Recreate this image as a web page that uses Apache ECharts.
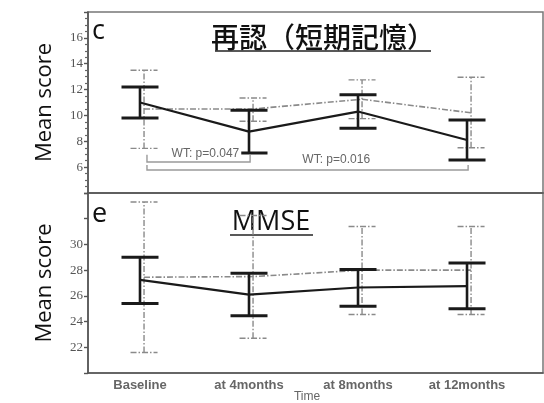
<!DOCTYPE html>
<html>
<head>
<meta charset="utf-8">
<script src="https://cdn.jsdelivr.net/npm/echarts@6/dist/echarts.min.js"></script>
<style>
html,body{margin:0;padding:0;background:#fff;}
#chart{width:544px;height:403px;}
</style>
</head>
<body>
<div id="chart"></div>
<script>
// ---- data ----
const categories = ['Baseline', 'at 4months', 'at 8months', 'at 12months'];

const recogSolidMean = [11.0, 8.75, 10.3, 8.1];
const recogSolidLow  = [9.8, 7.1, 9.0, 6.55];
const recogSolidHigh = [12.2, 10.4, 11.6, 9.65];
const recogDashMean  = [10.5, 10.5, 11.25, 10.2];
const recogDashLow   = [7.45, 9.55, 9.75, 7.5];
const recogDashHigh  = [13.5, 11.35, 12.75, 12.95];

const mmseSolidMean = [27.25, 26.1, 26.65, 26.75];
const mmseSolidLow  = [25.4, 24.45, 25.2, 25.0];
const mmseSolidHigh = [29.0, 27.75, 28.05, 28.55];
const mmseDashMean  = [27.45, 27.5, 28.0, 28.0];
const mmseDashLow   = [21.6, 22.7, 24.55, 24.55];
const mmseDashHigh  = [33.3, 32.25, 31.4, 31.4];

const recogTicks = [6, 8, 10, 12, 14, 16];
const mmseTicks = [22, 24, 26, 28, 30];

const wtTests = [
  { from: 0, to: 1, label: 'WT: p=0.047' },
  { from: 0, to: 3, label: 'WT: p=0.016' }
];

// ---- helpers ----
const DASH_OFFSET = 0.037;
const dashPattern = [6, 2, 1.5, 2];
const axisGray = '#555';

function meanData(arr, off) { return arr.map((v, i) => [i + off, v]); }
function barData(lo, hi, off) { return lo.map((v, i) => [i + off, v, hi[i]]); }

function errorSeries(lo, hi, off, gridIdx, dashed) {
  return {
    type: 'custom',
    xAxisIndex: gridIdx, yAxisIndex: gridIdx,
    data: barData(lo, hi, off),
    encode: { x: 0, y: [1, 2] },
    z: dashed ? 2 : 4,
    silent: true,
    renderItem: function (params, api) {
      const x = api.value(0);
      const pLo = api.coord([x, api.value(1)]);
      const pHi = api.coord([x, api.value(2)]);
      const half = dashed ? 13.5 : 18.5;
      const st = dashed
        ? { stroke: '#8a8a8a', lineWidth: 1.4, lineDash: dashPattern }
        : { stroke: '#1a1a1a', lineWidth: 2.6 };
      const capSt = dashed ? st : { stroke: '#1a1a1a', lineWidth: 3 };
      return {
        type: 'group',
        children: [
          { type: 'line', shape: { x1: pLo[0], y1: pLo[1], x2: pHi[0], y2: pHi[1] }, style: st },
          { type: 'line', shape: { x1: pLo[0] - half, y1: pLo[1], x2: pLo[0] + half, y2: pLo[1] }, style: capSt },
          { type: 'line', shape: { x1: pHi[0] - half, y1: pHi[1], x2: pHi[0] + half, y2: pHi[1] }, style: capSt }
        ]
      };
    }
  };
}

function meanSeries(arr, off, gridIdx, dashed) {
  return {
    type: 'line',
    xAxisIndex: gridIdx, yAxisIndex: gridIdx,
    data: meanData(arr, off),
    symbol: 'none',
    silent: true,
    z: dashed ? 2 : 5,
    lineStyle: dashed
      ? { color: '#8a8a8a', width: 1.6, type: dashPattern }
      : { color: '#1a1a1a', width: 2.2 }
  };
}

// bracket annotation levels (data units) for the WT tests
const bracketLevels = [{ y: 6.4, tip: 6.95, textY: 7.03, textX: 0.6 }, { y: 5.78, tip: 6.17, textY: 6.56, textX: 1.8 }];

const bracketSeries = {
  type: 'custom',
  xAxisIndex: 0, yAxisIndex: 0,
  data: wtTests.map((t, i) => [t.from + 0.064, t.to + 0.01, i]),
  encode: { x: [0, 1] },
  silent: true,
  z: 6,
  renderItem: function (params, api) {
    const i = api.value(2);
    const lv = bracketLevels[i];
    const a = api.coord([api.value(0), lv.y]);
    const b = api.coord([api.value(1), lv.y]);
    const aTip = api.coord([api.value(0), lv.tip]);
    const bTip = api.coord([api.value(1), lv.tip]);
    const tp = api.coord([lv.textX, lv.textY]);
    const st = { stroke: '#9a9a9a', lineWidth: 1.4, fill: null };
    return {
      type: 'group',
      children: [
        { type: 'polyline', shape: { points: [aTip, a, b, bTip] }, style: st },
        { type: 'text', x: tp[0], y: tp[1],
          style: { text: wtTests[i].label, fill: '#666', font: '12px "Liberation Sans"',
                   align: 'center', verticalAlign: 'middle',
                   backgroundColor: i === 0 ? '#fff' : null, padding: [0, 2] } }
      ]
    };
  }
};

const X_MIN = -0.477, X_MAX = 3.697;

function xAxisCfg(gridIdx, showLabels) {
  return {
    type: 'value', gridIndex: gridIdx, min: X_MIN, max: X_MAX,
    splitLine: { show: false },
    axisLine: { show: true, onZero: false, lineStyle: { color: '#555', width: 1.6 } },
    axisTick: { show: false },
    axisLabel: showLabels ? {
      show: true,
      customValues: [0, 1, 2, 3],
      formatter: v => categories[Math.round(v)],
      color: '#666', fontFamily: 'Liberation Sans', fontSize: 13, fontWeight: 'bold', margin: 6
    } : { show: false }
  };
}

function yAxisCfg(gridIdx, min, max, ticks, minor) {
  return {
    type: 'value', gridIndex: gridIdx, min: min, max: max, interval: 2,
    name: 'Mean score', nameLocation: 'middle', nameGap: 32,
    nameTextStyle: { fontFamily: 'Open Sans', fontSize: 22, color: '#111' },
    splitLine: { show: false },
    axisLine: { show: true, onZero: false, lineStyle: { color: '#555', width: 1.6 } },
    axisTick: { show: true, inside: false, length: 4, lineStyle: { color: '#555', width: 1.4 } },
    minorTick: { show: minor, splitNumber: 4, length: 3, lineStyle: { color: '#666', width: 1.2 } },
    axisLabel: {
      formatter: v => ticks.indexOf(v) >= 0 ? String(v) : '',
      color: axisGray, fontFamily: 'Liberation Serif', fontSize: 13, margin: 5
    }
  };
}

const chart = echarts.init(document.getElementById('chart'), null, { renderer: 'canvas' });
chart.setOption({
  backgroundColor: '#fff',
  animation: false,
  grid: [
    { left: 88, top: 12, width: 455, height: 181, show: true, borderColor: '#777', borderWidth: 1.5 },
    { left: 88, top: 193, width: 455, height: 180, show: true, borderColor: '#777', borderWidth: 1.5 }
  ],
  xAxis: [xAxisCfg(0, false), xAxisCfg(1, true)],
  yAxis: [yAxisCfg(0, 4, 18, recogTicks, true), yAxisCfg(1, 20, 34, mmseTicks, false)],
  graphic: [
    { type: 'text', x: 323, y: 37, style: { text: '再認（短期記憶）', font: '500 28px "Noto Sans CJK JP"', fill: '#111', align: 'center', verticalAlign: 'middle' } },
    { type: 'line', shape: { x1: 215, y1: 51, x2: 431, y2: 51 }, style: { stroke: '#222', lineWidth: 1.6 } },
    { type: 'text', x: 271, y: 222, style: { text: 'MMSE', font: '27px "Open Sans"', fill: '#111', align: 'center', verticalAlign: 'middle' } },
    { type: 'line', shape: { x1: 230, y1: 235, x2: 313, y2: 235 }, style: { stroke: '#222', lineWidth: 1.6 } },
    { type: 'text', x: 92, y: 31, style: { text: 'c', font: '27px "Open Sans"', fill: '#111', verticalAlign: 'middle' } },
    { type: 'text', x: 92, y: 214, style: { text: 'e', font: '27px "Open Sans"', fill: '#111', verticalAlign: 'middle' } },
    { type: 'text', x: 307, y: 397, style: { text: 'Time', font: '12px "Liberation Sans"', fill: '#666', align: 'center', verticalAlign: 'middle' } }
  ],
  series: [
    errorSeries(recogDashLow, recogDashHigh, DASH_OFFSET, 0, true),
    meanSeries(recogDashMean, DASH_OFFSET, 0, true),
    errorSeries(recogSolidLow, recogSolidHigh, 0, 0, false),
    meanSeries(recogSolidMean, 0, 0, false),
    bracketSeries,
    errorSeries(mmseDashLow, mmseDashHigh, DASH_OFFSET, 1, true),
    meanSeries(mmseDashMean, DASH_OFFSET, 1, true),
    errorSeries(mmseSolidLow, mmseSolidHigh, 0, 1, false),
    meanSeries(mmseSolidMean, 0, 1, false)
  ]
});
</script>
</body>
</html>
